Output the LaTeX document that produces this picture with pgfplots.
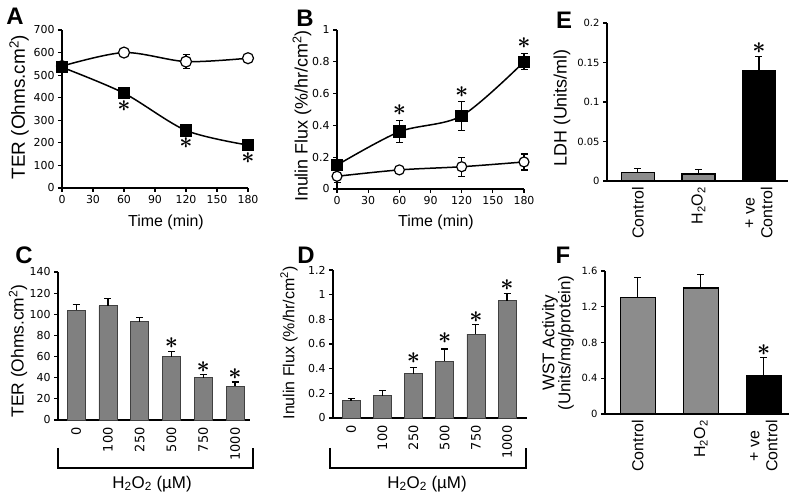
\documentclass[border=0pt]{standalone}
\usepackage{pgfplots}
\pgfplotsset{compat=1.18}
\usepackage{graphicx}
\usepackage{fontspec}
\setmainfont{Liberation Sans}
\newfontfamily\dv{DejaVu Sans}
\newcommand{\fs}[1]{\fontsize{#1}{#1}\selectfont}
\newcommand{\st}{\scalebox{2.3}{\boldmath$\ast$}}
\definecolor{bargray}{RGB}{128,128,128}
\definecolor{bargrayb}{RGB}{140,140,140}
\begin{document}
\begin{tikzpicture}[x=1bp,y=1bp]
\useasboundingbox (0,0) rectangle (800,499);
\pgfplotsset{
  base/.style={scale only axis, anchor=south west, clip=false,
    axis x line*=bottom, axis y line*=left,
    axis line style={line width=1.6bp,-},
    tick align=outside, major tick length=4bp,
    every tick/.style={black, line width=1.2bp},
    /pgf/number format/assume math mode=true},
  eb/.style={error bars/y dir=#1, error bars/y explicit,
    error bars/error bar style={line width=1.2bp,black},
    error bars/error mark options={rotate=90, line width=1.2bp, mark size=3.5bp, black}},
}
% ---------------- A ----------------
\begin{axis}[base, at={(62bp,311bp)}, width=186bp, height=158bp,
  xmin=0, xmax=180, ymin=0, ymax=700,
  xtick={0,30,60,90,120,150,180}, ytick={0,100,200,300,400,500,600,700},
  ticklabel style={font=\dv\fs{11}}]
\addplot[black, line width=1.5bp, smooth, mark=*, mark size=5.5bp,
  mark options={fill=white, draw=black, line width=1.2bp}, eb=both]
  coordinates {(0,540) +- (0,8) (60,600) +- (0,10) (120,560) +- (0,30) (180,575) +- (0,8)};
\addplot[black, line width=1.5bp, smooth, mark=square*, mark size=5.5bp,
  mark options={fill=black}, eb=both]
  coordinates {(0,535) +- (0,10) (60,420) +- (0,8) (120,255) +- (0,8) (180,190) +- (0,8)};
\node at (axis cs:60,363) {\st};
\node at (axis cs:120,199) {\st};
\node at (axis cs:180,133) {\st};
\end{axis}
% ---------------- B ----------------
\begin{axis}[base, at={(337bp,310bp)}, width=187bp, height=159bp,
  xmin=0, xmax=180, ymin=0, ymax=1,
  xtick={0,30,60,90,120,150,180}, ytick={0,0.2,0.4,0.6,0.8,1},
  yticklabels={0,0.2,0.4,0.6,0.8,1},
  ticklabel style={font=\dv\fs{11}}]
\addplot[black, line width=1.5bp, smooth, mark=*, mark size=5bp,
  mark options={fill=white, draw=black, line width=1.2bp}, eb=both]
  coordinates {(0,0.08) +- (0,0.04) (60,0.12) +- (0,0.01) (120,0.14) +- (0,0.06) (180,0.17) +- (0,0.05)};
\addplot[black, line width=1.5bp, smooth, mark=square*, mark size=5.5bp,
  mark options={fill=black}, eb=both]
  coordinates {(0,0.15) +- (0,0.03) (60,0.36) +- (0,0.07) (120,0.46) +- (0,0.09) (180,0.80) +- (0,0.05)};
\node at (axis cs:60,0.497) {\st};
\node at (axis cs:120,0.61) {\st};
\node at (axis cs:180,0.918) {\st};
\end{axis}
% ---------------- E ----------------
\begin{axis}[base, at={(607bp,318bp)}, width=181bp, height=158bp,
  xmin=-0.51, xmax=2.48, ymin=0, ymax=0.2,
  ytick={0,0.05,0.1,0.15,0.2}, yticklabels={0,0.05,0.1,0.15,0.2},
  xtick={0,1,2}, xticklabels={Control,H\textsubscript{2}O\textsubscript{2},{+ ve\\Control}},
  x tick style={draw=none},
  yticklabel style={font=\dv\fs{10}},
  xticklabel style={font=\fontsize{16}{18}\selectfont, rotate=90, anchor=east, align=center, inner sep=2bp}]
\addplot[ybar, bar width=33bp, bar shift=0pt, fill=bargrayb, draw=black, line width=1.3bp, eb=plus]
  coordinates {(0,0.011) +- (0,0.005) (1,0.009) +- (0,0.006)};
\addplot[ybar, bar width=33bp, bar shift=0pt, fill=black, draw=black, line width=1.3bp, eb=plus]
  coordinates {(2,0.14) +- (0,0.018)};
\node at (axis cs:2,0.168) {\st};
\end{axis}
% ---------------- C ----------------
\begin{axis}[base, at={(58bp,79bp)}, width=192bp, height=148bp,
  xmin=-0.57, xmax=5.47, ymin=0, ymax=140,
  ytick={0,20,40,60,80,100,120,140},
  xtick={0,1,2,3,4,5}, xticklabels={0,100,250,500,750,1000},
  x tick style={draw=none},
  yticklabel style={font=\dv\fs{11}},
  xticklabel style={font=\dv\fs{13}, rotate=90, anchor=east}]
\addplot[ybar, bar width=18bp, bar shift=0pt, fill=bargray, draw=black!75, line width=0.7bp, eb=plus]
  coordinates {(0,104) +- (0,5) (1,108) +- (0,7) (2,93) +- (0,4) (3,60) +- (0,5) (4,40) +- (0,3) (5,32) +- (0,4)};
\node at (axis cs:3,72.8) {\st};
\node at (axis cs:4,50) {\st};
\node at (axis cs:5,43.5) {\st};
\end{axis}
% ---------------- D ----------------
\begin{axis}[base, at={(333bp,81bp)}, width=194bp, height=148bp,
  xmin=-0.58, xmax=5.64, ymin=0, ymax=1.2,
  ytick={0,0.2,0.4,0.6,0.8,1,1.2}, yticklabels={0,0.2,0.4,0.6,0.8,1,1.2},
  xtick={0,1,2,3,4,5}, xticklabels={0,100,250,500,750,1000},
  x tick style={draw=none},
  yticklabel style={font=\dv\fs{11}},
  xticklabel style={font=\dv\fs{13}, rotate=90, anchor=east}]
\addplot[ybar, bar width=18bp, bar shift=0pt, fill=bargray, draw=black!75, line width=0.7bp, eb=plus]
  coordinates {(0,0.14) +- (0,0.02) (1,0.18) +- (0,0.04) (2,0.36) +- (0,0.05) (3,0.46) +- (0,0.10) (4,0.68) +- (0,0.08) (5,0.95) +- (0,0.06)};
\node at (axis cs:2,0.486) {\st};
\node at (axis cs:3,0.65) {\st};
\node at (axis cs:4,0.82) {\st};
\node at (axis cs:5,1.08) {\st};
\end{axis}
% ---------------- F ----------------
\begin{axis}[base, at={(605bp,85bp)}, width=184bp, height=143bp,
  xmin=-0.52, xmax=2.4, ymin=0, ymax=1.6,
  ytick={0,0.4,0.8,1.2,1.6}, yticklabels={0,0.4,0.8,1.2,1.6},
  xtick={0,1,2}, xticklabels={Control,H\textsubscript{2}O\textsubscript{2},{+ ve\\Control}},
  x tick style={draw=none},
  yticklabel style={font=\dv\fs{10}},
  xticklabel style={font=\fontsize{16}{18}\selectfont, rotate=90, anchor=east, align=center, inner sep=2bp}]
\addplot[ybar, bar width=35bp, bar shift=0pt, fill=bargrayb, draw=black, line width=1.3bp, eb=plus]
  coordinates {(0,1.30) +- (0,0.23) (1,1.41) +- (0,0.15)};
\addplot[ybar, bar width=35bp, bar shift=0pt, fill=black, draw=black, line width=1.3bp, eb=plus]
  coordinates {(2,0.43) +- (0,0.20)};
\node at (axis cs:2,0.716) {\st};
\end{axis}
% ---------------- labels ----------------
\node[font=\fs{19}, rotate=90] at (19,392) {TER (Ohms.cm\textsuperscript{2})};
\node[font=\fs{16}] at (166,277) {Time (min)};
\node[font=\fs{18}, rotate=90] at (302,383) {Inulin Flux (\%/hr/cm\textsuperscript{2})};
\node[font=\fs{16}] at (436,277) {Time (min)};
\node[font=\fs{18}, rotate=90] at (562,391) {LDH (Units/ml)};
\node[font=\fs{17.5}, rotate=90] at (18,148) {TER (Ohms.cm\textsuperscript{2})};
\node[font=\fs{16}, rotate=90] at (289,156) {Inulin Flux (\%/hr/cm\textsuperscript{2})};
\node[font=\fontsize{17}{16}\selectfont, rotate=90, align=center] at (558,156) {WST Activity\\(Units/mg/protein)};
\node[font=\fs{24}\bfseries] at (15,483) {A};
\node[font=\fs{24}\bfseries] at (305,481) {B};
\node[font=\fs{24}\bfseries] at (564,479) {E};
\node[font=\fs{24}\bfseries] at (24,244) {C};
\node[font=\fs{24}\bfseries] at (306,244) {D};
\node[font=\fs{24}\bfseries] at (563,244) {F};
\draw[line width=1.6bp] (58,51) -- (58,31) -- (253,31) -- (253,51);
\draw[line width=1.6bp] (330,51) -- (330,31) -- (526,31) -- (526,51);
\node[font=\fs{17}] at (152,15) {H\textsubscript{2}O\textsubscript{2} (\textmu M)};
\node[font=\fs{17}] at (427,15) {H\textsubscript{2}O\textsubscript{2} (\textmu M)};
\end{tikzpicture}
\end{document}
